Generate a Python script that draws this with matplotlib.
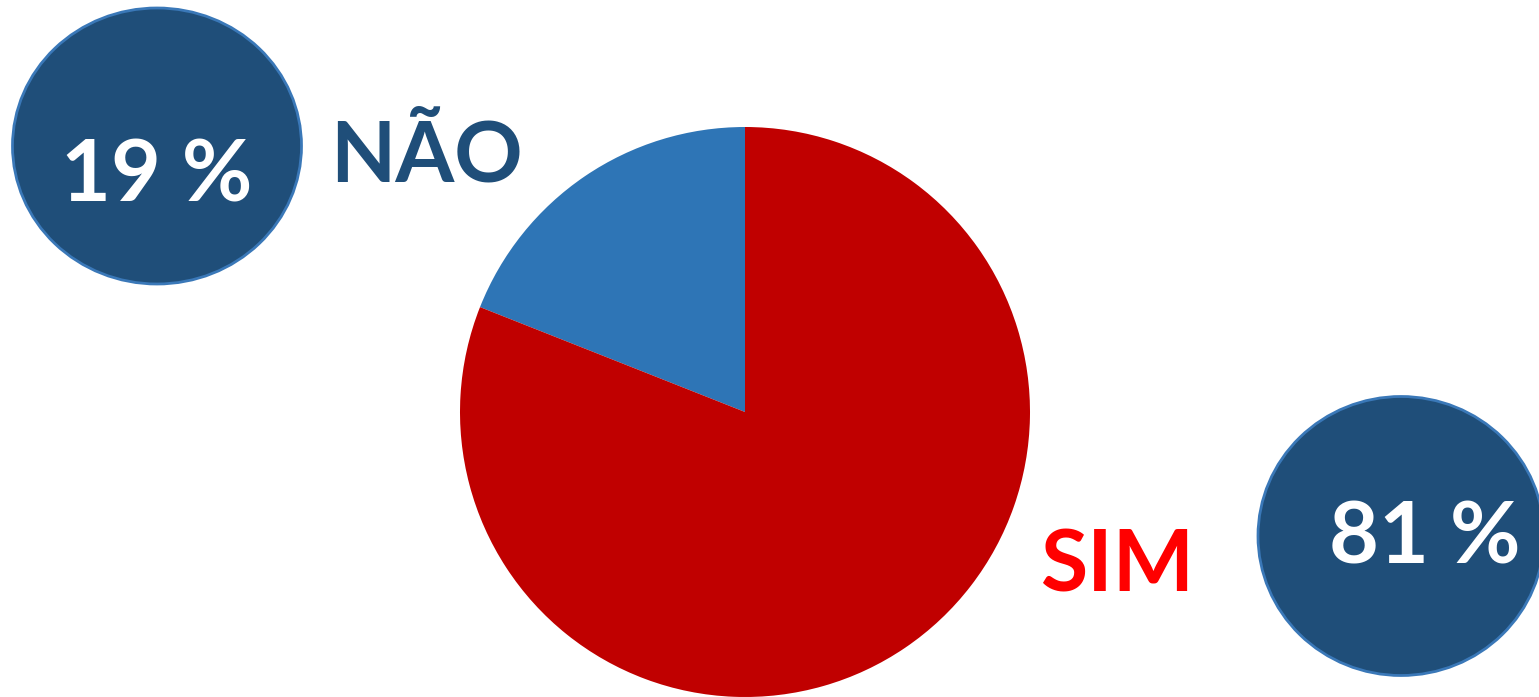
import matplotlib
matplotlib.use("Agg")
import matplotlib.pyplot as plt
from matplotlib.patches import Ellipse

labels = ["NÃO", "SIM"]
values = [19, 81]
slice_colors = ["#2E75B6", "#C00000"]
label_colors = ["#1F4E79", "#FF0000"]

W, H = 1539, 697
fig = plt.figure(figsize=(W / 100, H / 100), dpi=100)
ax = fig.add_axes([0, 0, 1, 1])

# pie in pixel coordinates (y measured from bottom)
ax.pie(values, colors=slice_colors, startangle=90, counterclock=True,
       center=(745, H - 412), radius=285,
       wedgeprops=dict(linewidth=0))

ax.set_xlim(0, W)
ax.set_ylim(0, H)
ax.set_aspect("equal")
ax.axis("off")

FONT = "Lato"
badges = [
    # (circle center, circle size, text center x, text baseline)
    ((157, H - 146), (289, 276), 157, H - 201),
    ((1401, H - 536), (286, 279), 1425, H - 564),
]
for (c, size, tx, ty), v in zip(badges, values):
    ax.add_patch(Ellipse(c, size[0], size[1], facecolor="#1F4E79",
                         edgecolor="#3A78B8", linewidth=2, zorder=3))
    ax.text(tx, ty, f"{v} %", ha="center", va="baseline",
            fontsize=62, fontweight="bold", color="white",
            family=FONT, zorder=4)

ax.text(330, H - 181, labels[0], ha="left", va="baseline", fontsize=61,
        fontweight="bold", color=label_colors[0], family=FONT)
ax.text(1040, H - 591, labels[1], ha="left", va="baseline", fontsize=62,
        fontweight="bold", color=label_colors[1], family=FONT)

fig.savefig("out.png", dpi=100, facecolor="white")
